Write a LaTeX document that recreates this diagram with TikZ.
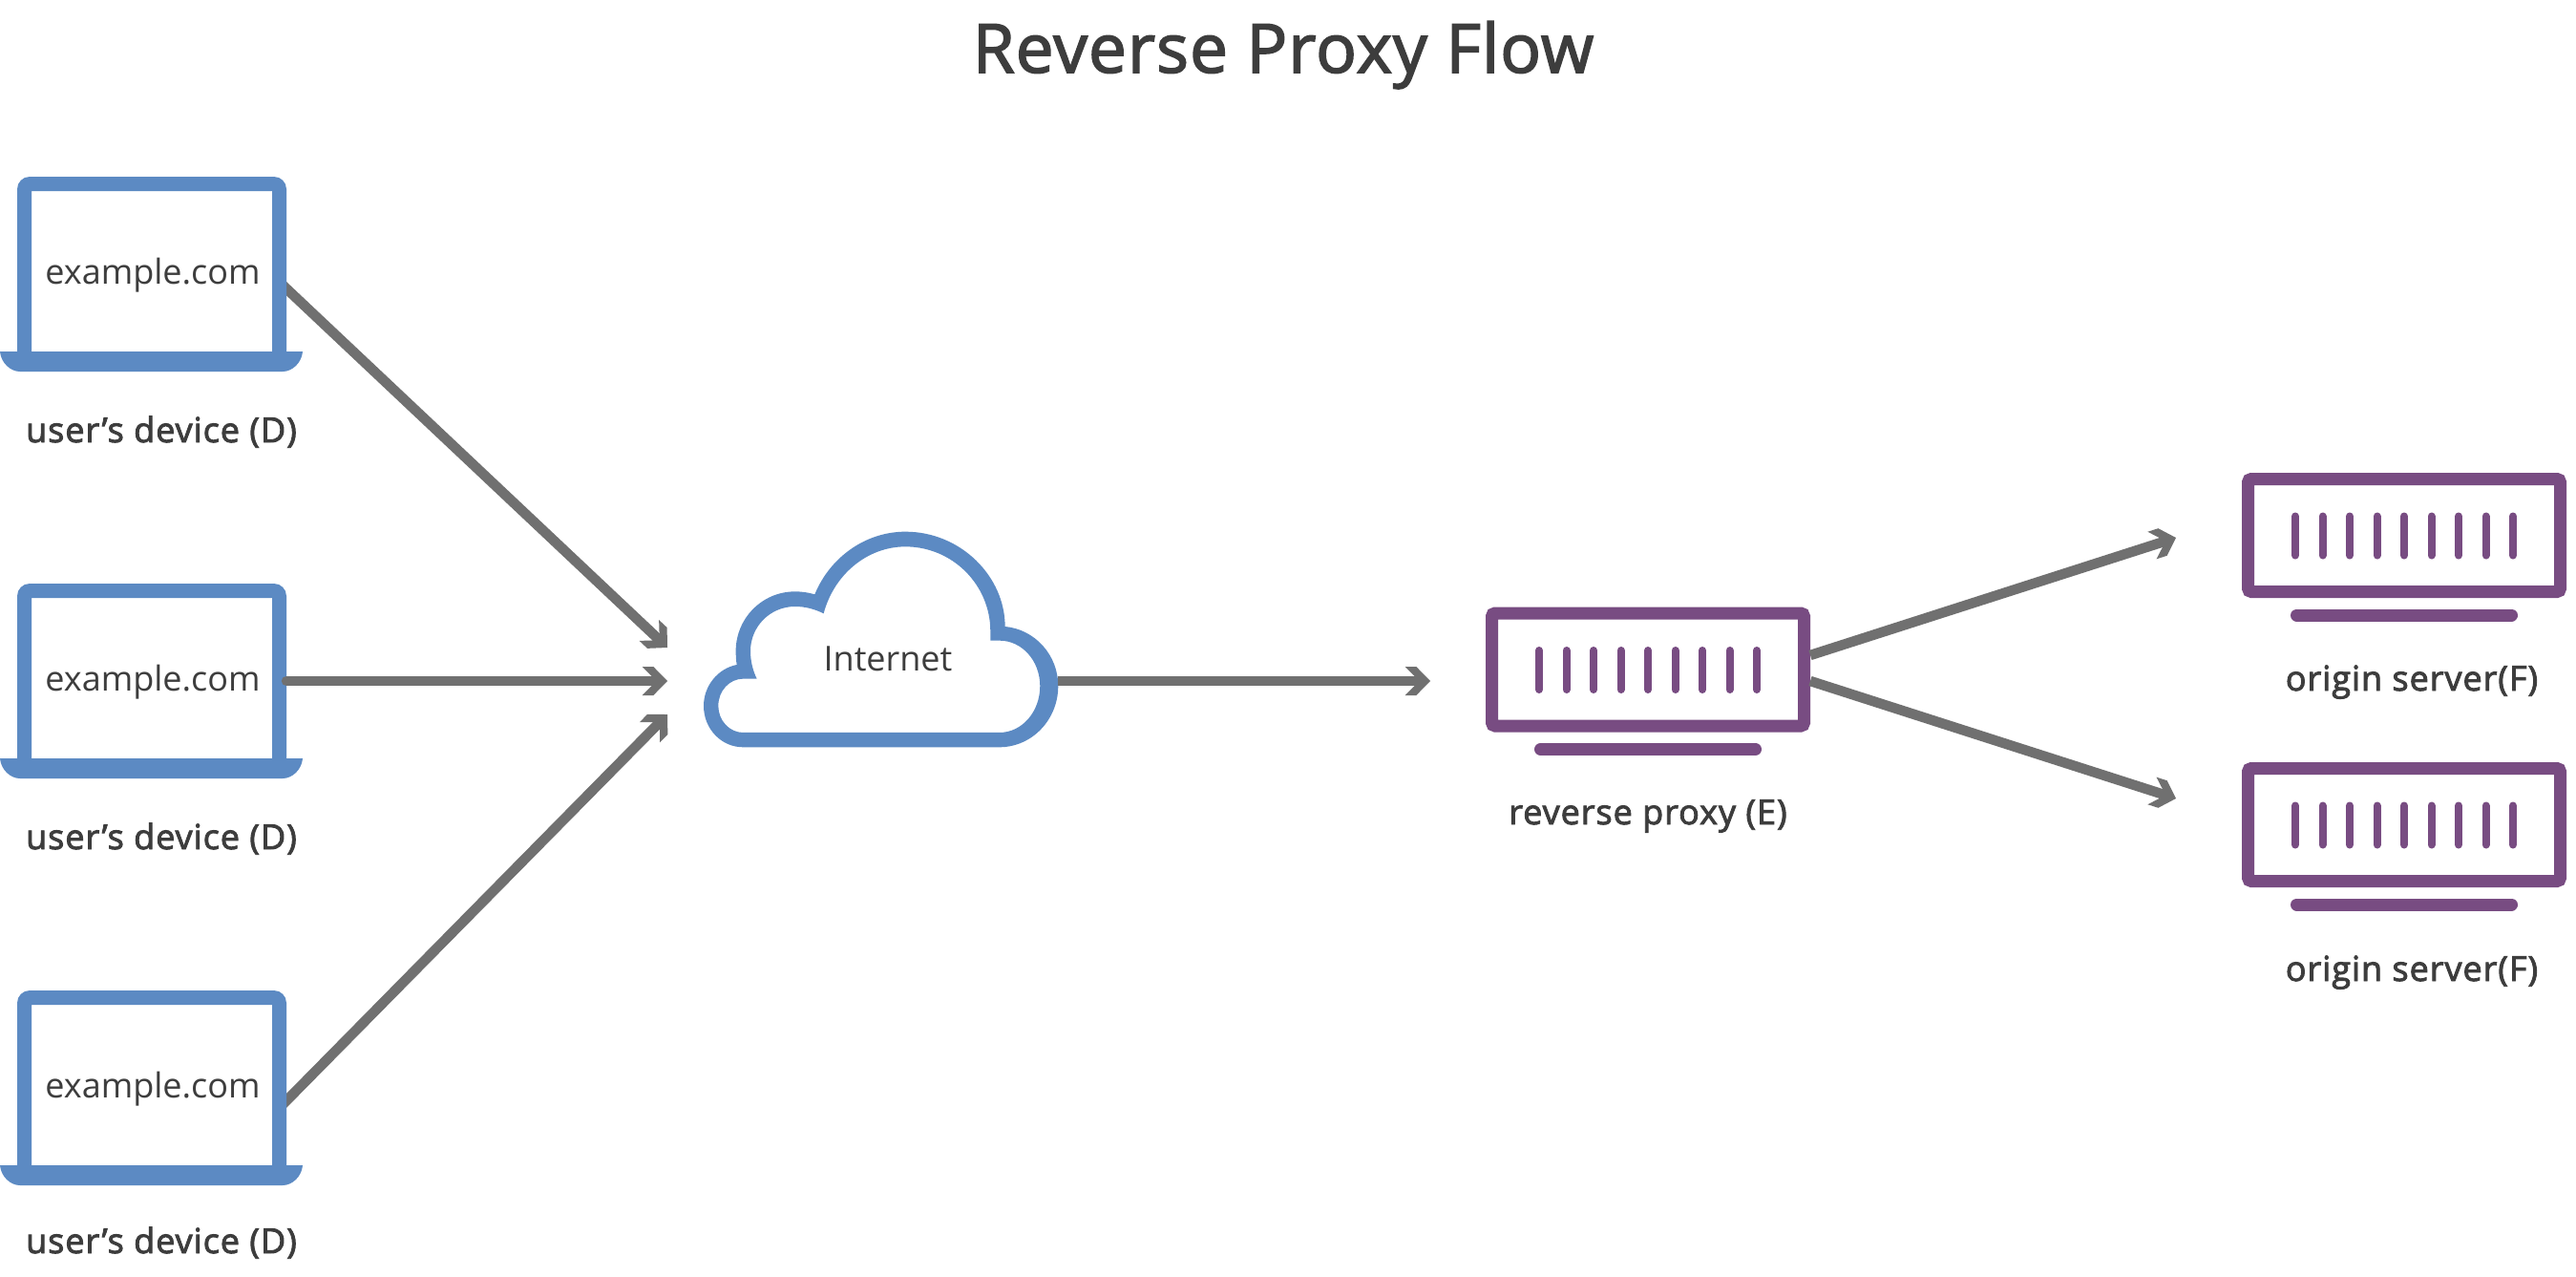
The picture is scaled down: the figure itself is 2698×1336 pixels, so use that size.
\documentclass[tikz,border=0pt]{standalone}
\usepackage{fontspec}
\setmainfont{Open Sans}
\newfontfamily\semib[LetterSpace=2.7]{Open Sans}
\newfontfamily\semit[LetterSpace=1.6]{Open Sans}
\newcommand{\thicktext}[2]{\special{pdf:code 2 Tr #1 w 0.239 0.239 0.239 RG}#2\special{pdf:code 0 Tr}}
\usetikzlibrary{arrows.meta,backgrounds}
\definecolor{bluec}{RGB}{92,138,195}
\definecolor{purpc}{RGB}{120,76,130}
\definecolor{grayc}{RGB}{112,112,112}
\definecolor{textc}{RGB}{61,61,61}
\makeatletter
\pgfdeclarearrow{
  name=Chev,
  setup code={
    \pgfarrowssettipend{0pt}
    \pgfarrowssetlineend{-8pt}
    \pgfarrowssetbackend{-26.3pt}
    \pgfarrowssetvisualbackend{-16pt}
  },
  drawing code={
    \pgfpathmoveto{\pgfpoint{0pt}{0pt}}
    \pgfpathlineto{\pgfpoint{-14.7pt}{15pt}}
    \pgfpathlineto{\pgfpoint{-26.3pt}{15pt}}
    \pgfpathlineto{\pgfpoint{-16pt}{4.7pt}}
    \pgfpathlineto{\pgfpoint{-16pt}{-4.7pt}}
    \pgfpathlineto{\pgfpoint{-26.3pt}{-15pt}}
    \pgfpathlineto{\pgfpoint{-14.7pt}{-15pt}}
    \pgfpathclose
    \pgfusepathqfill
  },
  parameters={x}
}
\makeatother
\tikzset{
  ghost/.style={inner sep=0pt,outer sep=0pt,minimum width=#1},
  flow/.style={draw=grayc,line width=10.5pt,-{Chev}},
  screentxt/.style={text=textc,font=\fontsize{36}{44}\selectfont,anchor=base,inner sep=0pt},
  caption/.style={text=textc,font=\semib\fontsize{36}{44}\selectfont,anchor=base,inner sep=0pt},
  titletxt/.style={text=textc,font=\semit\fontsize{71}{84}\selectfont,anchor=base,inner sep=0pt},
  serverframe/.style={draw=purpc,line width=13pt,rounded corners=3.5pt,minimum width=327pt,minimum height=118pt,inner sep=0pt},
  serverbar/.style={draw=purpc,line width=8pt,line cap=round},
  serverbase/.style={draw=purpc,line width=13pt,line cap=round},
}
\newcommand{\laptopicon}[4]{% name, y offset, label name, label extra offset
  \begin{scope}[shift={(0,#2)}]
    \fill[bluec,even odd rule]
      (18,368) -- (18,198) arc[start angle=180,end angle=90,radius=13pt] -- (287,185)
      arc[start angle=90,end angle=0,radius=13pt] -- (300,368) -- cycle
      (33,200) rectangle (285,368);
    \fill[bluec] (0,368) -- (317,368) .. controls (316,380) and (306,389) .. (296,389)
      -- (21,389) .. controls (11,389) and (1,380) .. (0,368) -- cycle;
    \node[ghost=282pt,minimum height=183pt] (#1) at (159,276.5) {};
    \node[screentxt] (#1txt) at (160,297) {example.com};
    \node[caption] (#3) at (169,463+#4) {\thicktext{0.9}{user’s device (D)}};
  \end{scope}
}
\newcommand{\servericon}[3]{% name, cx, cy
  \node[serverframe] (#1) at (#2,#3) {};
  \foreach \i in {0,...,8} {
    \draw[serverbar] ({#2-114+28.5*\i},{#3-20}) -- ({#2-114+28.5*\i},{#3+21});
  }
  \draw[serverbase] ({#2-112.5},{#3+83.5}) -- ({#2+112.5},{#3+83.5});
}
\begin{document}
\begin{tikzpicture}[x=1pt,y=-1pt]
\useasboundingbox (0,0) rectangle (2698,1336);
\begin{scope}[on background layer]
\fill[white] (0,0) rectangle (2698,1336);
\end{scope}

\node[titletxt] (title) at (1344,76) {\thicktext{1.6}{Reverse Proxy Flow}};

\laptopicon{lapa}{0}{capa}{0}
\laptopicon{lapb}{426}{capb}{0}
\laptopicon{lapc}{852}{capc}{-3}

% cloud
\begin{scope}[shift={(640,540)},x=0.3333pt,y=-0.3333pt]
\fill[bluec,even odd rule]
 (415,727) .. controls (347,727) and (291,670) .. (291,597)
 .. controls (291,535) and (335,480) .. (395,468)
 .. controls (393,455) and (392,440) .. (392,425)
 .. controls (392,322) and (475,238) .. (578,238)
 .. controls (600,238) and (620,241) .. (640,247)
 .. controls (688,130) and (800,50) .. (925,50)
 .. controls (1098,50) and (1238,190) .. (1238,348)
 .. controls (1332,357) and (1405,437) .. (1405,535)
 .. controls (1405,641) and (1322,727) .. (1220,727) -- cycle
 (415,681) .. controls (372,681) and (337,643) .. (337,597)
 .. controls (337,550) and (372,512) .. (415,512) -- (458,512)
 .. controls (445,485) and (438,455) .. (438,425)
 .. controls (438,348) and (500,285) .. (578,285)
 .. controls (610,285) and (640,293) .. (668,307)
 .. controls (700,185) and (805,97) .. (925,97)
 .. controls (1072,97) and (1192,216) .. (1192,363) -- (1192,392) -- (1220,392)
 .. controls (1292,392) and (1348,456) .. (1348,535)
 .. controls (1348,615) and (1292,681) .. (1220,681) -- cycle;
\end{scope}
\node[ghost=371pt,minimum height=225pt] (cloud) at (922.5,669.5) {};
\node[screentxt] (cloudtxt) at (930,702) {Internet};

\servericon{proxy}{1726}{701}
\node[caption] (capproxy) at (1726,863) {\thicktext{0.9}{reverse proxy (E)}};
\servericon{origa}{2518}{560.5}
\node[caption] (capa2) at (2526,723) {\thicktext{0.9}{origin server(F)}};
\servericon{origb}{2518}{863.5}
\node[caption] (capb2) at (2526,1027) {\thicktext{0.9}{origin server(F)}};

\coordinate (ina) at (699,678);
\coordinate (inb) at (699,713);
\coordinate (inc) at (699,748);
\coordinate (tobox) at (1498,713);
\coordinate (toa) at (2279,563);
\coordinate (tob) at (2279,836);

\begin{scope}[on background layer]
\draw[flow] ([xshift=-5pt,yshift=-21pt]lapa.east) -- (ina);
\draw[flow] ([xshift=-5pt,yshift=-29pt]lapc.east) -- (inc);
\end{scope}
\draw[flow,line cap=round] ([yshift=-10.5pt]lapb.east) -- (inb);
\draw[flow] (cloud.east |- tobox) -- (tobox);
\draw[flow] ([yshift=15pt]proxy.east) -- (toa);
\draw[flow] ([yshift=-12pt]proxy.east) -- (tob);
\end{tikzpicture}
\end{document}
